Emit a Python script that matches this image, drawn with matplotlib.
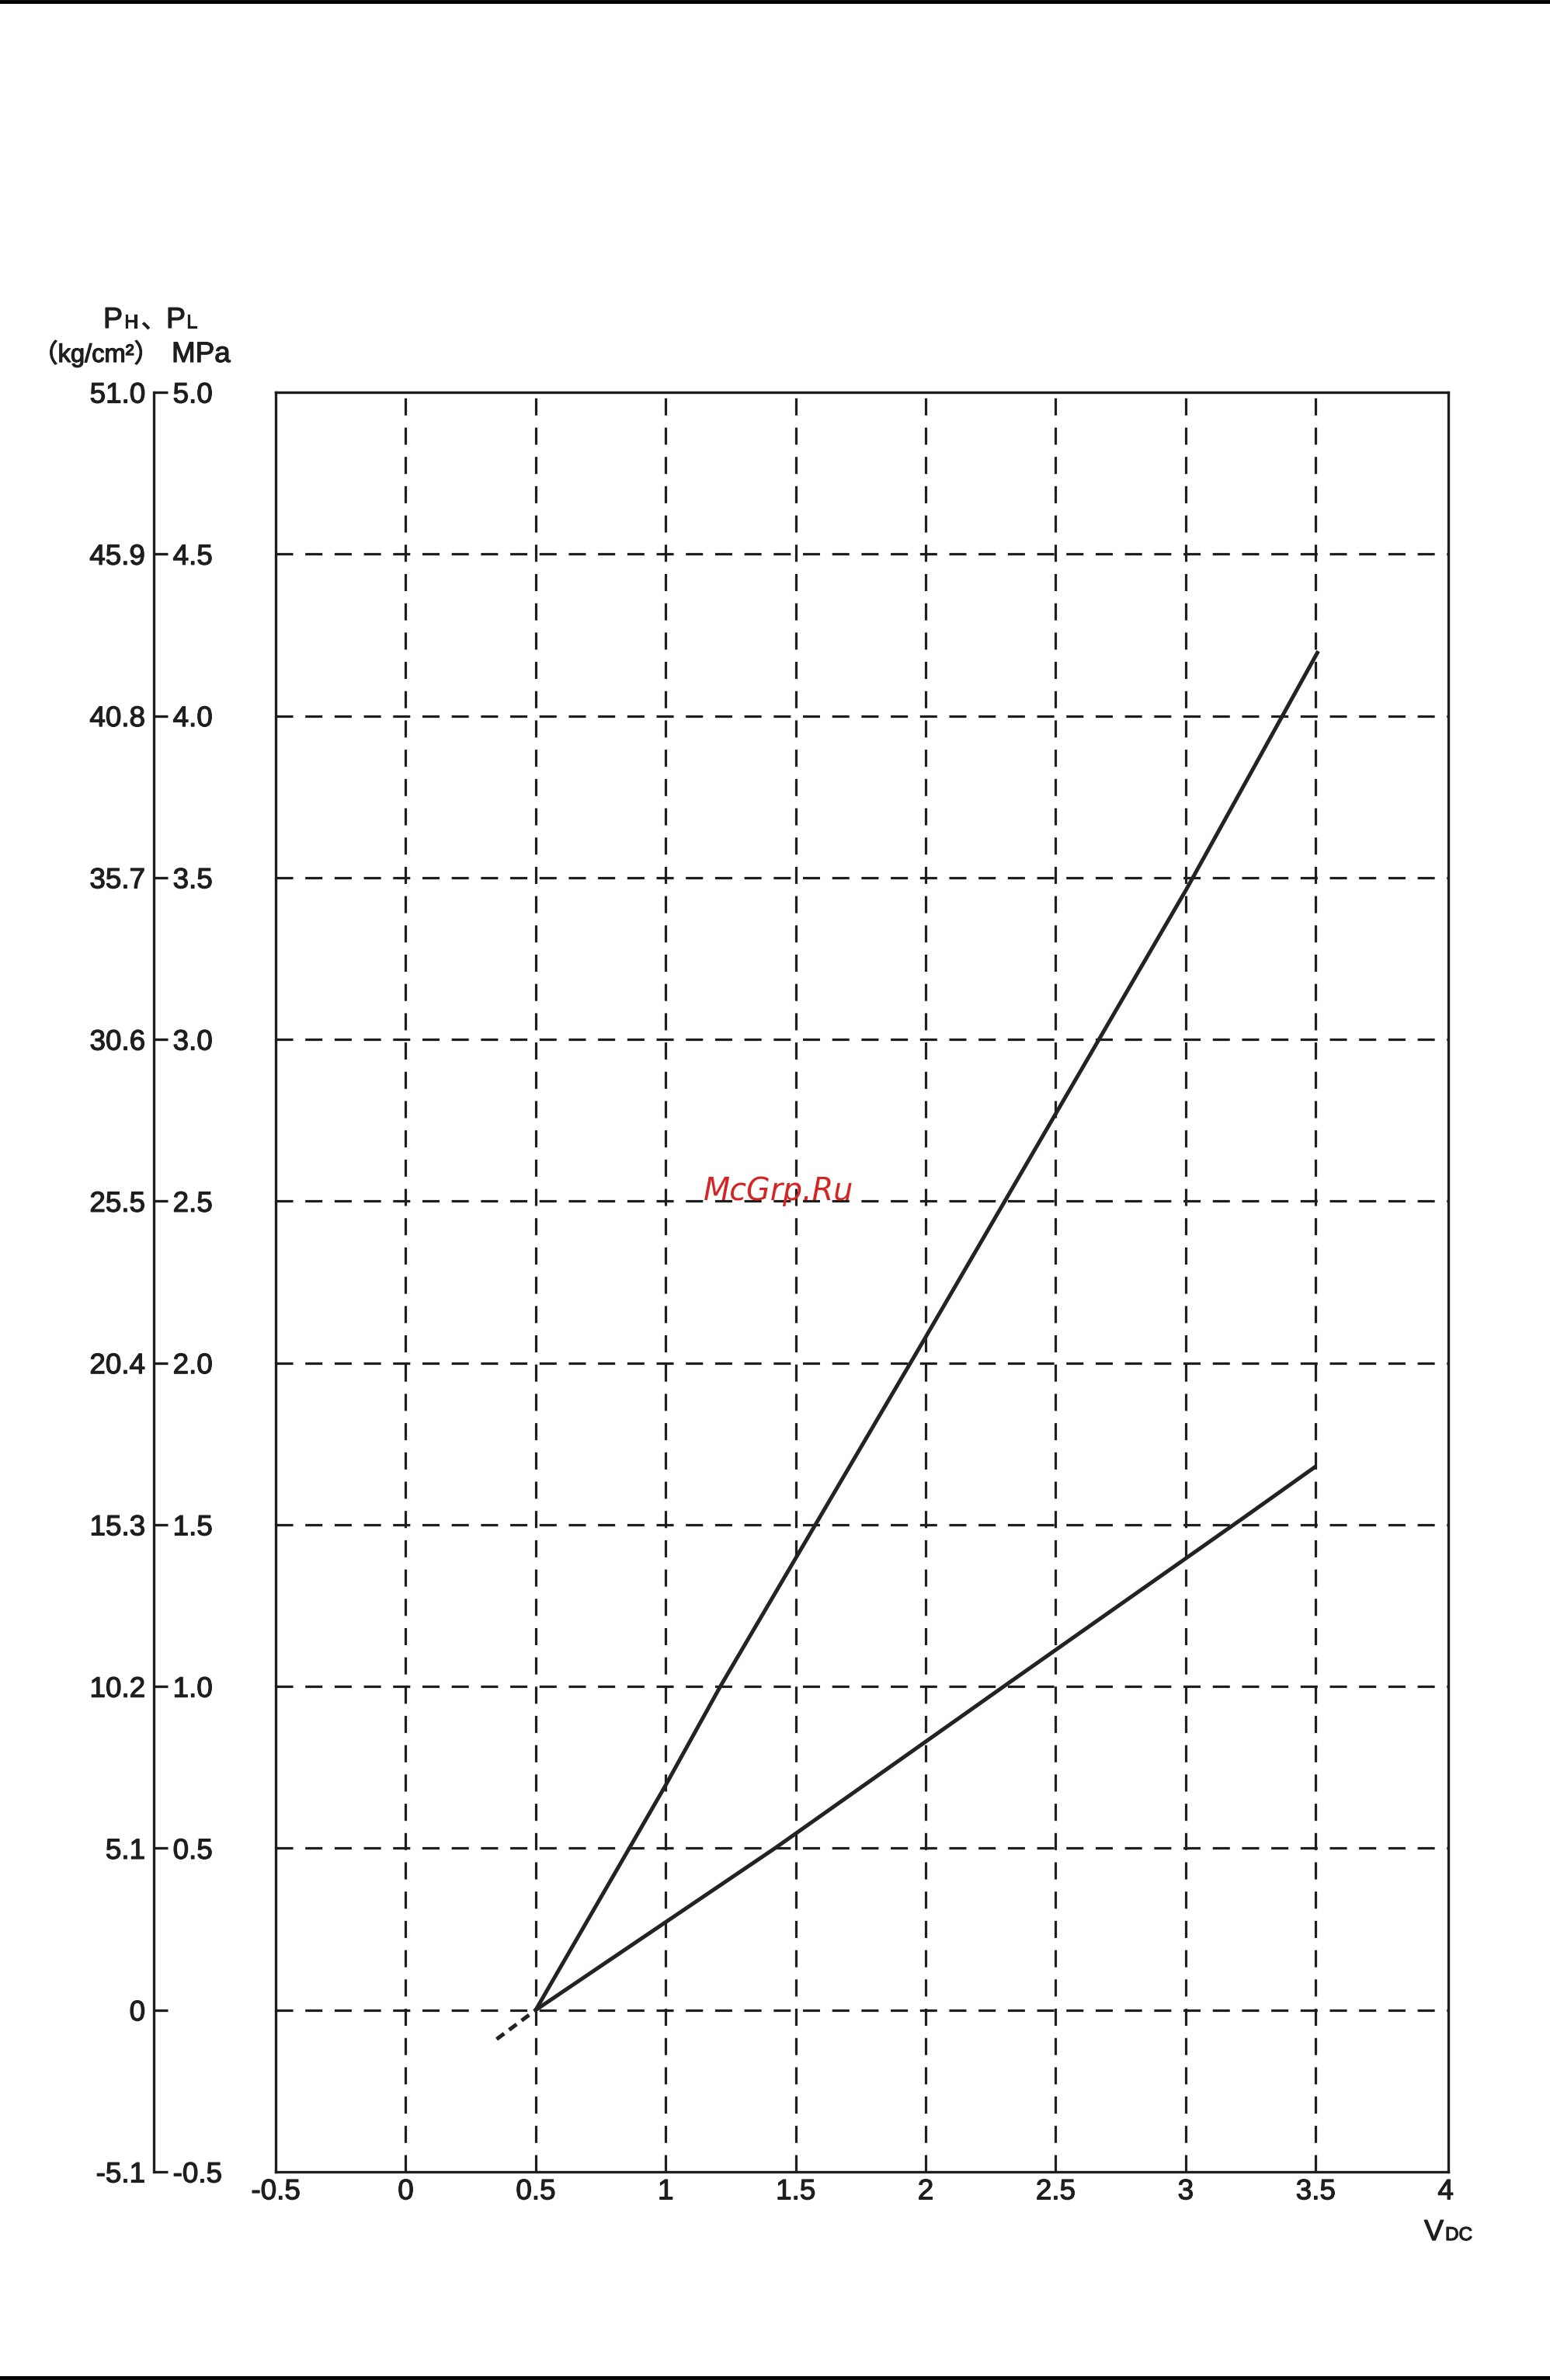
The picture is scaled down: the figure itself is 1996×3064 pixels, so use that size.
"""Pressure vs. control voltage chart (PH / PL against VDC)."""
import matplotlib; matplotlib.use("Agg")
import matplotlib.pyplot as plt
import matplotlib.patheffects as pe
from matplotlib.lines import Line2D

plt.rcParams["font.family"] = ["Liberation Sans", "Noto Sans CJK JP", "DejaVu Sans"]

W, H = 1996, 3064
INK = "#1e1e1e"
HEAVY = [pe.withStroke(linewidth=0.9, foreground=INK)]

# ---- data ----
x_ticks = [-0.5, 0, 0.5, 1, 1.5, 2, 2.5, 3, 3.5, 4]
x_labels = ["-0.5", "0", "0.5", "1", "1.5", "2", "2.5", "3", "3.5", "4"]
mpa_ticks = [5.0, 4.5, 4.0, 3.5, 3.0, 2.5, 2.0, 1.5, 1.0, 0.5, 0.0, -0.5]
kg_labels = ["51.0", "45.9", "40.8", "35.7", "30.6", "25.5", "20.4", "15.3",
             "10.2", "5.1", "0", "-5.1"]
mpa_labels = ["5.0", "4.5", "4.0", "3.5", "3.0", "2.5", "2.0", "1.5",
              "1.0", "0.5", "", "-0.5"]
grid_x = [0, 0.5, 1, 1.5, 2, 2.5, 3, 3.5]
grid_y = [0, 0.5, 1.0, 1.5, 2.0, 2.5, 3.0, 3.5, 4.0, 4.5]

ph_v = [0.5, 0.86, 1.0, 1.21, 2.0, 3.0, 3.51]
ph_p = [0.0, 0.5, 0.695, 1.0, 2.08, 3.46, 4.2]
pl_v = [0.5, 1.42, 2.3, 3.22, 3.5]
pl_p = [0.0, 0.5, 1.0, 1.52, 1.68]
ext_v = [0.35, 0.5]          # dashed extrapolation below zero
ext_p = [-0.09, 0.0]


def fx(x):
    return x / W


def fy(y):
    return 1 - y / H


def label(x, y, s, size, **kw):
    fig.text(fx(x), fy(y), s, fontsize=size, color=INK, va="baseline",
             path_effects=HEAVY, **kw)


fig = plt.figure(figsize=(W / 100, H / 100), dpi=100, facecolor="white")

# main plotting area
left, right, top, bottom = 355, 1865, 505, 2796
rect = [fx(left), fy(bottom), (right - left) / W, (bottom - top) / H]
ax = fig.add_axes(rect)
ax.set_xlim(-0.5, 4.01)
ax.set_ylim(-0.5, 5.0)
for sp in ax.spines.values():
    sp.set_linewidth(2.4); sp.set_color(INK)
ax.set_xticks(x_ticks, x_labels)
ax.set_yticks([])
ax.tick_params(axis="x", length=0, pad=6, labelsize=26.5, colors=INK)
plt.setp(ax.get_xticklabels(), path_effects=HEAVY)

gls = (0, (6.9, 4.9))
for gx in grid_x:
    ax.axvline(gx, color=INK, lw=2.3, ls=gls, zorder=1)
for gy in grid_y:
    ax.axhline(gy, color=INK, lw=2.3, ls=gls, zorder=1)

ax.plot(ph_v, ph_p, color="#252223", lw=3.6, zorder=3, solid_capstyle="butt")
ax.plot(pl_v, pl_p, color="#252223", lw=3.6, zorder=3, solid_capstyle="butt")
ax.plot(ext_v, ext_p, color="#252223", lw=3.6, ls=(0, (2.4, 1.6)), zorder=3)

# dual-unit scale on the left
axl = fig.add_axes([fx(198), fy(bottom), 0.0005, (bottom - top) / H])
axl.set_ylim(-0.5, 5.0)
axl.set_facecolor("none")
for sp in ["top", "right", "bottom"]:
    axl.spines[sp].set_visible(False)
axl.spines["left"].set_linewidth(2.4); axl.spines["left"].set_color(INK)
axl.set_xticks([])
axl.set_yticks(mpa_ticks, kg_labels)
axl.tick_params(axis="y", direction="in", length=13, width=2.4, pad=8,
                labelsize=26.5, colors=INK)
plt.setp(axl.get_yticklabels(), path_effects=HEAVY)

axr = axl.twinx()
axr.set_ylim(-0.5, 5.0)
for sp in axr.spines.values():
    sp.set_visible(False)
axr.set_yticks(mpa_ticks, mpa_labels)
axr.tick_params(axis="y", length=0, pad=17, labelsize=26.5, colors=INK)
plt.setp(axr.get_yticklabels(), path_effects=HEAVY)

# axis titles
label(133, 422, "P", 27)
label(160, 422, "H", 17.5)
label(182, 422, "、", 22)
label(214, 422, "P", 27)
label(240, 422, "L", 17.5)
label(42, 466, "（kg/cm²）", 23.5)
label(221, 466, "MPa", 26.5)
label(1834, 2884, "V", 27)
label(1861, 2884, "DC", 17.5)

# watermark
fig.text(fx(1003), fy(1545), "McGrp.Ru", fontsize=28.5, color="#d42424",
         family="DejaVu Sans", style="italic", ha="center", va="baseline")

# page rules top and bottom
fig.add_artist(Line2D([0, 1], [fy(2), fy(2)], transform=fig.transFigure,
                      color="black", lw=3.5))
fig.add_artist(Line2D([0, 1], [fy(3061), fy(3061)], transform=fig.transFigure,
                      color="black", lw=3.5))

fig.savefig("out.png", dpi=100, facecolor="white")
